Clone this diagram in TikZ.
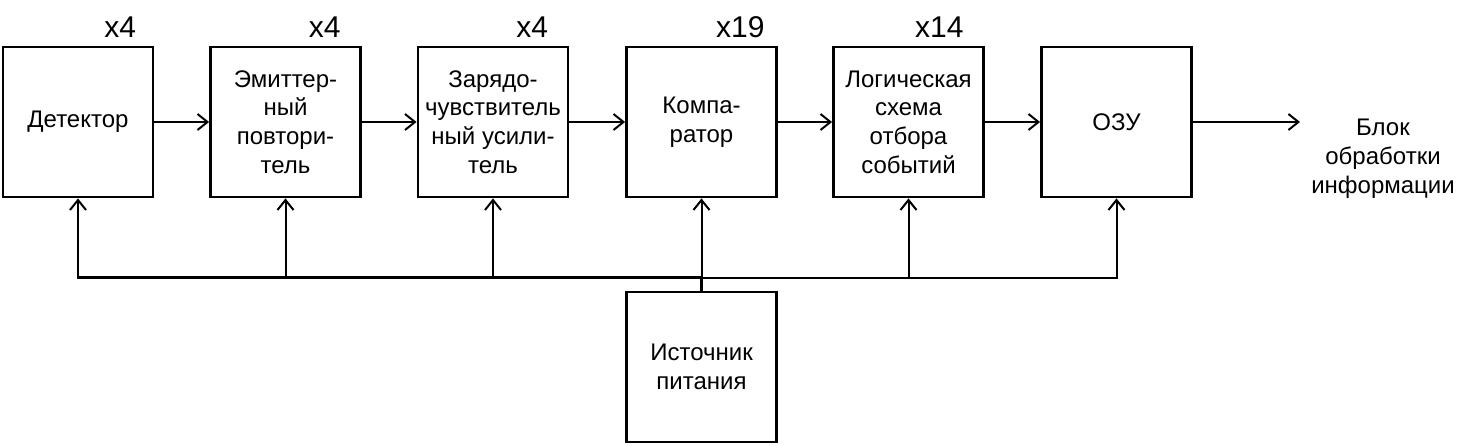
\documentclass[tikz,border=0pt]{standalone}
\usepackage{fontspec}
\setmainfont{Liberation Sans}
\usetikzlibrary{arrows.meta,calc}
\begin{document}
\begin{tikzpicture}[x=0.5pt,y=-0.5pt,
 blockbox/.style={draw,line width=1.4pt,minimum width=75pt,minimum height=75pt,inner sep=0pt,align=center,font=\fontsize{12}{14.3}\selectfont},
 multlabel/.style={anchor=base east,inner sep=0pt,font=\fontsize{15}{18}\selectfont},
 conn/.style={line width=1pt,-{Straight Barb[length=5pt,width=8pt,line width=1pt]}},
 busline/.style={line width=1pt,line cap=rect},
 outtext/.style={align=center,inner sep=0pt,font=\fontsize{12}{14.5}\selectfont}]
\useasboundingbox (0,0) rectangle (1465,445);
\node[blockbox] (b1) at (78,122) {Детектор};
\node[blockbox] (b2) at (285.5,122) {Эмиттер-\\ный\\повтори-\\тель};
\node[blockbox] (b3) at (493,122) {Зарядо-\\чувствитель\\ный усили-\\тель};
\node[blockbox] (b4) at (701.5,122) {Компа-\\ратор};
\node[blockbox] (b5) at (908.5,122) {Логическая\\схема\\отбора\\событий};
\node[blockbox] (b6) at (1116.5,122) {ОЗУ};
\node[blockbox] (src) at (701.5,367) {Источник\\питания};
\node[outtext] (out) at (1383,159) {Блок\\обработки\\информации};
\coordinate (outend) at (1300,122);
\coordinate (bus) at (0,277.5);
\node[multlabel] (m1) at ($(b1.north east)+(-18,-8)$) {x4};
\node[multlabel] (m2) at ($(b2.north east)+(-21,-8)$) {x4};
\node[multlabel] (m3) at ($(b3.north east)+(-21,-8)$) {x4};
\node[multlabel] (m4) at ($(b4.north east)+(-13,-8)$) {x19};
\node[multlabel] (m5) at ($(b5.north east)+(-21,-8)$) {x14};
% signal chain
\draw[conn] (b1.east) -- (b2.west);
\draw[conn] (b2.east) -- (b3.west);
\draw[conn] (b3.east) -- (b4.west);
\draw[conn] (b4.east) -- (b5.west);
\draw[conn] (b5.east) -- (b6.west);
\draw[conn] (b6.east) -- (outend);
% power bus
\draw[line width=1.5pt,line cap=rect] (b1.south |- bus) -- (src.north |- bus);
\draw[busline] (src.north |- bus) -- (b6.south |- bus);
\draw[line width=1.5pt] (src.north) -- (src.north |- bus);
\draw[conn] (b1.south |- bus) -- (b1.south);
\draw[conn] (b2.south |- bus) -- (b2.south);
\draw[conn] (b3.south |- bus) -- (b3.south);
\draw[conn] (src.north |- bus) -- (b4.south);
\draw[conn] (b5.south |- bus) -- (b5.south);
\draw[conn] (b6.south |- bus) -- (b6.south);
\end{tikzpicture}
\end{document}
